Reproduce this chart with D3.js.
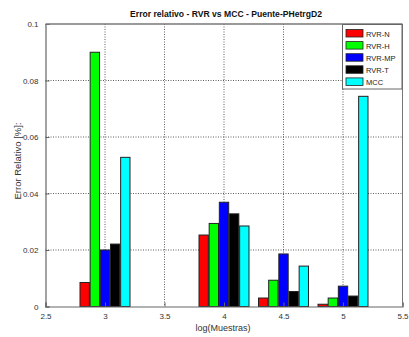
<!DOCTYPE html>
<html>
<head>
<meta charset="utf-8">
<script src="https://cdn.jsdelivr.net/npm/d3@7"></script>
<style>
  html, body { margin: 0; padding: 0; background: #fff; }
  svg { display: block; font-family: "Liberation Sans", Arial, sans-serif; }
</style>
</head>
<body>
<svg id="chart" width="409" height="337"></svg>
<script>
// Group positions on the log(Muestras) axis
const groups = [3, 4, 4.5, 5];
const seriesNames = ["RVR-N", "RVR-H", "RVR-MP", "RVR-T", "MCC"];
const seriesColors = ["#ff0000", "#00ff00", "#0000ff", "#000000", "#00ffff"];

// Relative error per series, one value per group
const rvrN  = [0.0085, 0.0253, 0.0030, 0.0008];
const rvrH  = [0.0900, 0.0294, 0.0093, 0.0030];
const rvrMP = [0.0200, 0.0369, 0.0186, 0.0072];
const rvrT  = [0.0221, 0.0328, 0.0053, 0.0037];
const mcc   = [0.0528, 0.0285, 0.0143, 0.0744];

const xTicks = [2.5, 3, 3.5, 4, 4.5, 5, 5.5];
const yTicks = [0, 0.02, 0.04, 0.06, 0.08, 0.1];

const seriesValues = [rvrN, rvrH, rvrMP, rvrT, mcc];

const svg = d3.select("#chart");
const plotL = 45.5, plotR = 402.5, plotT = 24, plotB = 306.5;

const x = d3.scaleLinear().domain([2.5, 5.5]).range([plotL, plotR]);
const y = d3.scaleLinear().domain([0, 0.1]).range([plotB, plotT]);

// Bars within a group share a band spanning 0.42 units around the group center
const half = x(3.21) - x(3);
const inner = d3.scaleBand().domain(seriesNames).range([-half, half]).paddingInner(0.08);

// Grid lines
const grid = svg.append("g").attr("stroke", "#333").attr("stroke-width", 0.8)
  .attr("stroke-dasharray", "1,1.5");
grid.selectAll("line.v").data(xTicks.slice(1, -1)).join("line").attr("class", "v")
  .attr("x1", d => x(d)).attr("x2", d => x(d)).attr("y1", plotT).attr("y2", plotB);
grid.selectAll("line.h").data(yTicks.slice(1, -1)).join("line").attr("class", "h")
  .attr("x1", plotL).attr("x2", plotR).attr("y1", d => y(d)).attr("y2", d => y(d));

// Bars
const barData = [];
seriesNames.forEach((name, si) => {
  groups.forEach((g, gi) => barData.push({ name, color: seriesColors[si], g, v: seriesValues[si][gi] }));
});
svg.append("g").selectAll("rect").data(barData).join("rect")
  .attr("x", d => x(d.g) + inner(d.name))
  .attr("width", inner.bandwidth())
  .attr("y", d => y(d.v))
  .attr("height", d => y(0) - y(d.v))
  .attr("fill", d => d.color)
  .attr("stroke", "#222")
  .attr("stroke-width", 1);

// Axes (ticks point inward)
const xAxis = d3.axisBottom(x).tickValues(xTicks).tickSize(-4).tickPadding(7)
  .tickFormat(d => String(d));
const yAxis = d3.axisLeft(y).tickValues(yTicks).tickSize(-4).tickPadding(7)
  .tickFormat(d => String(d));

const gx = svg.append("g").attr("transform", `translate(0,${plotB})`).call(xAxis);
const gy = svg.append("g").attr("transform", `translate(${plotL},0)`).call(yAxis);
[gx, gy].forEach(g => {
  g.select(".domain").attr("stroke", "#666").attr("stroke-width", 1.2);
  g.selectAll(".tick line").attr("stroke", "#666");
  g.selectAll(".tick text").attr("fill", "#333").style("font-size", "8px")
    .style("font-family", "'Liberation Sans', Arial, sans-serif");
});

// Top and right border of the axes box
svg.append("line").attr("x1", plotL).attr("x2", plotR).attr("y1", plotT).attr("y2", plotT)
  .attr("stroke", "#777").attr("stroke-width", 1.5);
svg.append("line").attr("x1", plotR).attr("x2", plotR).attr("y1", plotT).attr("y2", plotB)
  .attr("stroke", "#777").attr("stroke-width", 1);

// Title and axis labels
svg.append("text").attr("x", 226).attr("y", 17).attr("text-anchor", "middle")
  .style("font-size", "8.6px").style("font-weight", "bold").attr("fill", "#111")
  .text("Error relativo - RVR vs MCC - Puente-PHetrgD2");
svg.append("text").attr("x", 223).attr("y", 331).attr("text-anchor", "middle")
  .style("font-size", "9px").attr("fill", "#333").text("log(Muestras)");
svg.append("text").attr("transform", "translate(21,161) rotate(-90)").attr("text-anchor", "middle")
  .style("font-size", "9.5px").attr("fill", "#333").text("Error Relativo [%]:");

// Legend
const lg = svg.append("g");
lg.append("rect").attr("x", 342.5).attr("y", 24.5).attr("width", 59.5).attr("height", 64.5)
  .attr("fill", "#fff").attr("stroke", "#666").attr("stroke-width", 1);
const rows = lg.selectAll("g.row").data(seriesNames).join("g").attr("class", "row")
  .attr("transform", (d, i) => `translate(346,${29.5 + i * 12.1})`);
rows.append("rect").attr("width", 17).attr("height", 7.5)
  .attr("fill", (d, i) => seriesColors[i]).attr("stroke", "#222").attr("stroke-width", 0.8);
rows.append("text").attr("x", 20).attr("y", 7).style("font-size", "7.5px").attr("fill", "#222")
  .text(d => d);
</script>
</body>
</html>
